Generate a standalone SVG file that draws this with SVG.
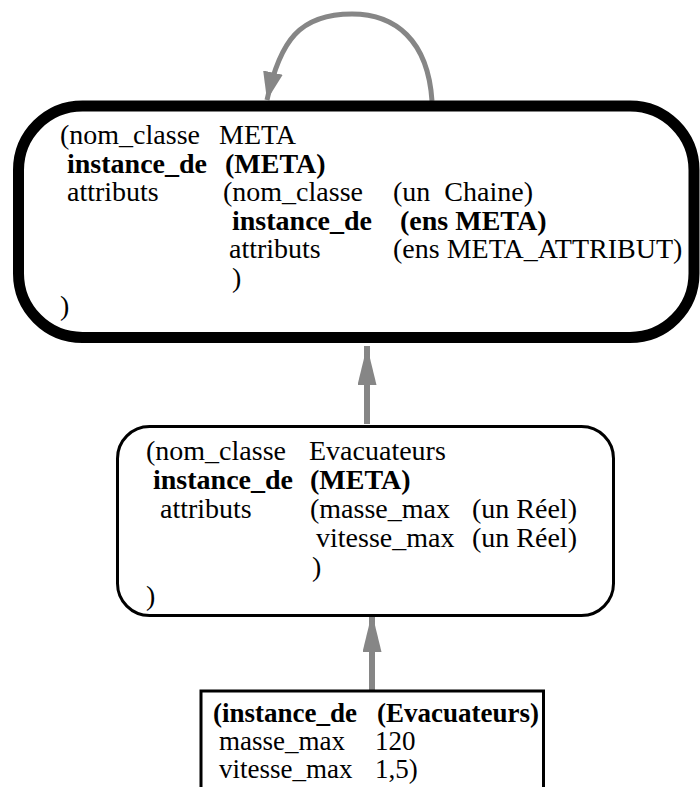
<svg xmlns="http://www.w3.org/2000/svg" width="700" height="787" viewBox="0 0 700 787">
<style>
text{font-family:"Liberation Serif","Times New Roman",serif;font-size:28px;fill:#000;white-space:pre}
.b{font-weight:bold}
.s27{font-size:27px}
.conn{stroke:#868686;fill:none}
</style>
<defs>
<marker id="ah" markerUnits="userSpaceOnUse" markerWidth="40" markerHeight="20" refX="39" refY="9.5" orient="auto">
<polygon points="0,0 39,9.5 0,19" fill="#868686"/>
</marker>
<marker id="ah2" markerUnits="userSpaceOnUse" markerWidth="30" markerHeight="22" refX="28" refY="10" orient="auto">
<polygon points="0,0 28,10 0,20" fill="#868686"/>
</marker>
</defs>
<rect width="700" height="787" fill="#fff"/>
<g id="connectors">
<path class="conn" stroke-width="5" d="M 432 101 C 428 40 395 14 352 14 C 300 14 280 40 267 100" marker-end="url(#ah2)"/>
<line class="conn" stroke-width="6" x1="367" y1="424" x2="367" y2="346" marker-end="url(#ah)"/>
<line class="conn" stroke-width="6" x1="372" y1="690" x2="372" y2="613" marker-end="url(#ah)"/>
</g>
<g id="meta">
<rect x="18.5" y="106" width="675.5" height="231.5" rx="64" ry="64" fill="none" stroke="#000" stroke-width="11"/>
<text x="60" y="144">(nom_classe</text><text x="219" y="144">META</text>
<text class="b" x="67" y="172.5">instance_de</text><text class="b" x="225" y="172.5">(META)</text>
<text x="67" y="201">attributs</text><text x="223" y="201">(nom_classe</text><text x="393" y="201">(un  Chaine)</text>
<text class="b" x="232" y="229.5">instance_de</text><text class="b" x="400" y="229.5">(ens META)</text>
<text x="229" y="258">attributs</text><text x="393" y="258">(ens META_ATTRIBUT)</text>
<text x="232" y="287">)</text>
<text x="60" y="315">)</text>
</g>
<g id="evacuateurs">
<rect x="117.5" y="426.5" width="496" height="189" rx="32" ry="32" fill="#fff" stroke="#000" stroke-width="3"/>
<text x="146" y="460">(nom_classe</text><text x="309" y="460">Evacuateurs</text>
<text class="b" x="153" y="489">instance_de</text><text class="b" x="310" y="489">(META)</text>
<text x="160" y="518">attributs</text><text x="310" y="518">(masse_max</text><text x="472" y="518">(un Réel)</text>
<text x="316" y="547">vitesse_max</text><text x="472" y="547">(un Réel)</text>
<text x="312" y="576">)</text>
<text x="146" y="605">)</text>
</g>
<g id="instance">
<rect x="201" y="691" width="342.5" height="120" fill="#fff" stroke="#000" stroke-width="3"/>
<text class="b s27" x="213" y="722">(instance_de</text><text class="b s27" x="377" y="722">(Evacuateurs)</text>
<text class="s27" x="219" y="750">masse_max</text><text class="s27" x="375" y="750">120</text>
<text class="s27" x="219" y="778">vitesse_max</text><text class="s27" x="375" y="778">1,5)</text>
</g>
</svg>
